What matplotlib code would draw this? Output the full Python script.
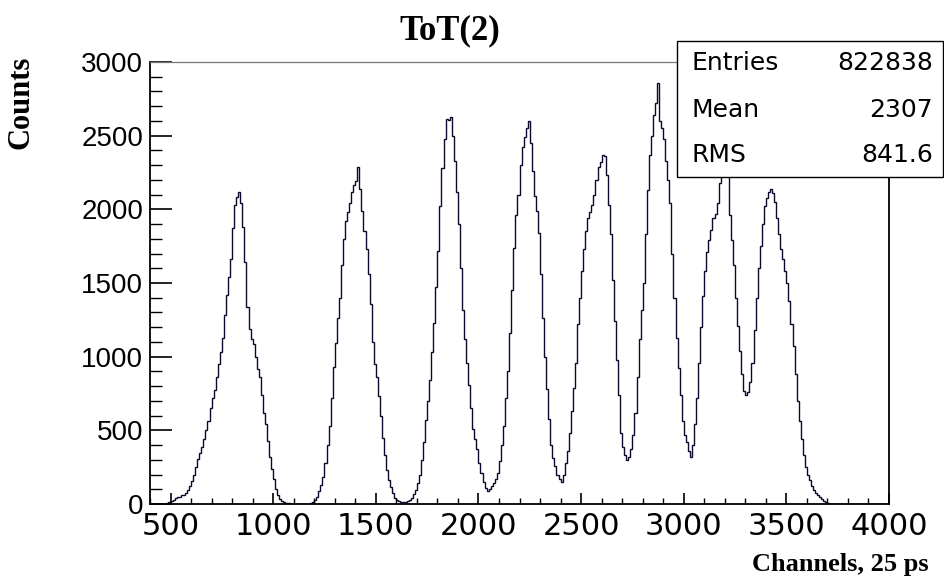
import numpy as np
import matplotlib
matplotlib.use("Agg")
import matplotlib.pyplot as plt
from matplotlib.ticker import MultipleLocator

# ---- histogram: ToT(2), 10-channel bins from 400 to 4000 ----
bin_lo, bin_hi, bin_w = 400, 4000, 10
counts = [
    0, 0, 0, 0, 0, 0, 0, 2, 8, 15,                                   # 400
    20, 30, 38, 45, 50, 58, 62, 75, 92, 120,                         # 500
    155, 200, 250, 305, 345, 385, 440, 500, 565, 650,                # 600
    720, 775, 860, 950, 1030, 1130, 1280, 1420, 1540, 1660,          # 700
    1870, 2030, 2085, 2120, 2040, 1880, 1640, 1340, 1190, 1120,      # 800
    1085, 1000, 915, 860, 740, 620, 540, 430, 320, 240,              # 900
    170, 100, 60, 35, 22, 14, 9, 5, 3, 1,                            # 1000
    0, 0, 0, 0, 0, 0, 0, 0, 5, 14,                                   # 1100
    28, 50, 85, 130, 180, 280, 400, 530, 720, 930,                   # 1200
    1090, 1260, 1400, 1620, 1800, 1920, 1980, 2040, 2120, 2165,      # 1300
    2195, 2290, 2140, 1990, 1850, 1730, 1560, 1360, 1100, 950,       # 1400
    860, 730, 600, 450, 330, 230, 160, 115, 75, 40,                  # 1500
    25, 18, 14, 14, 16, 22, 30, 40, 65, 95,                          # 1600
    140, 200, 300, 420, 570, 700, 840, 1030, 1230, 1470,             # 1700
    1720, 2020, 2280, 2480, 2615, 2605, 2625, 2500, 2330, 2120,      # 1800
    1900, 1600, 1320, 1120, 960, 810, 650, 510, 440, 370,            # 1900
    280, 210, 150, 110, 85, 100, 120, 140, 170, 210,                 # 2000
    290, 400, 530, 720, 900, 1160, 1450, 1740, 1960, 2100,           # 2100
    2300, 2420, 2490, 2550, 2600, 2450, 2260, 2090, 1990, 1840,      # 2200
    1560, 1260, 1000, 780, 580, 400, 310, 255, 200, 170,             # 2300
    150, 200, 280, 360, 480, 630, 790, 960, 1220, 1400,              # 2400
    1580, 1730, 1850, 1940, 1985, 2030, 2100, 2200, 2290, 2320,      # 2500
    2370, 2360, 2230, 2030, 1830, 1520, 1240, 980, 740, 480,         # 2600
    390, 330, 300, 320, 370, 470, 620, 860, 1120, 1320,              # 2700
    1500, 1830, 2130, 2370, 2500, 2640, 2720, 2860, 2600, 2550,      # 2800
    2480, 2330, 2200, 2040, 1700, 1400, 1130, 920, 740, 560,         # 2900
    470, 420, 360, 320, 400, 540, 720, 960, 1200, 1410,              # 3000
    1580, 1710, 1790, 1860, 1940, 1970, 2040, 2180, 2380, 2520,      # 3100
    2560, 2260, 1960, 1790, 1620, 1400, 1210, 1040, 880, 770,        # 3200
    740, 760, 830, 960, 1180, 1400, 1600, 1750, 1900, 2020,          # 3300
    2080, 2120, 2135, 2110, 2050, 1940, 1830, 1730, 1660, 1580,      # 3400
    1500, 1380, 1220, 1070, 880, 700, 560, 440, 330, 250,            # 3500
    200, 160, 120, 95, 78, 60, 45, 32, 20, 12,                       # 3600
    5, 2, 1, 0, 0, 0, 0, 0, 0, 0,                                    # 3700
    0, 0, 0, 0, 0, 0, 0, 0, 0, 0,                                    # 3800
    0, 0, 0, 0, 0, 0, 0, 0, 0, 0,                                    # 3900
]
stat_names = ["Entries", "Mean", "RMS"]
stat_values = ["822838", "2307", "841.6"]

title = "ToT(2)"
xlabel = "Channels, 25 ps"
ylabel = "Counts"

SERIF = "Liberation Serif"
SANS = "DejaVu Sans"
LINE = "#0a0a2e"

edges = np.arange(bin_lo, bin_hi + bin_w, bin_w)

fig = plt.figure(figsize=(9.45, 5.87), dpi=100)
ax = fig.add_axes([150 / 945, 1 - 504 / 587, (889 - 150) / 945, (504 - 62) / 587])
ax.stairs(counts, edges, color=LINE, lw=1.0)

ax.set_xlim(bin_lo, bin_hi)
ax.set_ylim(0, 3000)
ax.xaxis.set_minor_locator(MultipleLocator(100))
ax.yaxis.set_major_locator(MultipleLocator(500))
ax.yaxis.set_minor_locator(MultipleLocator(100))
ax.set_xticks(np.arange(500, 4001, 500))

ax.tick_params(axis="x", which="major", direction="in", length=8, width=1.2,
               pad=6, labelsize=22)
ax.tick_params(axis="x", which="minor", direction="in", length=4.5, width=1.0)
ax.tick_params(axis="y", which="major", direction="in", length=16, width=1.2,
               pad=5, labelsize=20)
ax.tick_params(axis="y", which="minor", direction="in", length=8.5, width=1.0)
for lab in ax.get_xticklabels():
    lab.set_family(SANS)
for lab in ax.get_yticklabels():
    lab.set_family("Liberation Sans")

for side in ["left", "bottom", "right"]:
    ax.spines[side].set_color("black")
    ax.spines[side].set_linewidth(1.3)
ax.spines["top"].set_color("#777777")
ax.spines["top"].set_linewidth(0.9)

# titles (ROOT style, placed in figure coords)
fig.text(450 / 945, 1 - 31 / 587, title, family=SERIF, weight="bold",
         fontsize=25, ha="center", va="center")
fig.text(21 / 945, 1 - 102 / 587, ylabel, family=SERIF, weight="bold",
         fontsize=22, rotation=90, ha="center", va="center")
fig.text(840 / 945, 1 - 565 / 587, xlabel, family=SERIF, weight="bold",
         fontsize=19, ha="center", va="center")

# stats box
bx0, by0, bx1, by1 = 677, 41, 943, 177
box = plt.Rectangle((bx0 / 945, 1 - by1 / 587), (bx1 - bx0) / 945, (by1 - by0) / 587,
                    transform=fig.transFigure, facecolor="white", edgecolor="black",
                    lw=1.0, zorder=5)
fig.patches.append(box)
row_y = [63, 110, 155]
for name, val, yy in zip(stat_names, stat_values, row_y):
    fig.text(692 / 945, 1 - yy / 587, name, family=SANS, fontsize=18,
             ha="left", va="center", zorder=6)
    fig.text(933 / 945, 1 - yy / 587, val, family=SANS, fontsize=18,
             ha="right", va="center", zorder=6)

fig.savefig("out.png", dpi=100)
